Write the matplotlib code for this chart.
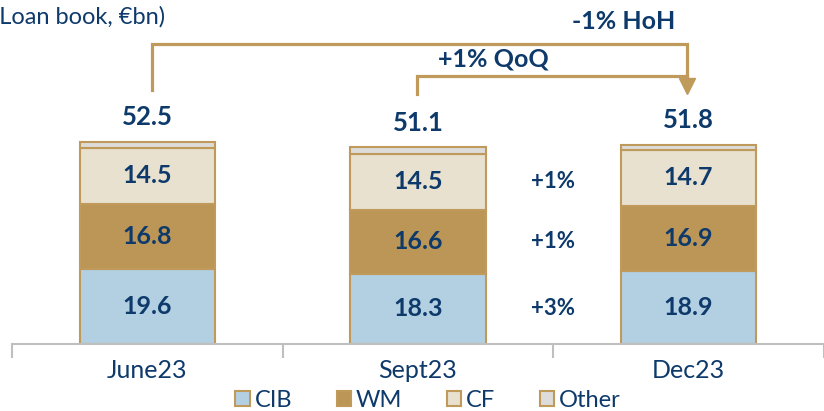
import numpy as np
import matplotlib
matplotlib.use("Agg")
import matplotlib.pyplot as plt
from matplotlib.patches import Patch

# data (loan book, EUR bn)
periods = ["June23", "Sept23", "Dec23"]
cib = [19.6, 18.3, 18.9]
wm = [16.8, 16.6, 16.9]
cf = [14.5, 14.5, 14.7]
totals = [52.5, 51.1, 51.8]
other = [round(t - a - b - c, 1) for t, a, b, c in zip(totals, cib, wm, cf)]
qoq_changes = ["+3%", "+1%", "+1%"]   # CIB, WM, CF
qoq_label = "+1% QoQ"
hoh_label = "-1% HoH"

navy = "#0E3A6B"
gold = "#BF9A5A"
colors = {"CIB": "#B3D0E2", "WM": "#BC9656", "CF": "#E8E1CF", "Other": "#DDDCDA"}

plt.rcParams['font.family'] = ['Lato', 'DejaVu Sans']

fig = plt.figure(figsize=(8.24, 4.11), dpi=100)
ax = fig.add_axes([0, 1 - 344 / 411, 1, 344 / 411])

x = np.arange(len(periods))
w = 0.5
bottom = np.zeros(len(periods))
segments = [("CIB", cib), ("WM", wm), ("CF", cf), ("Other", other)]
for name, vals in segments:
    vals = np.array(vals)
    ax.bar(x, vals, w, bottom=bottom, color=colors[name], edgecolor=gold, linewidth=1.5, zorder=2)
    if name != "Other":
        for xi, b, v in zip(x, bottom, vals):
            ax.text(xi, b + v / 2, f"{v:.1f}", ha="center", va="center",
                    fontsize=18, fontweight="bold", color=navy)
    bottom += vals

for xi, t in zip(x, totals):
    ax.text(xi, t + 6.4, f"{t:.1f}", ha="center", va="center",
            fontsize=18.5, fontweight="bold", color=navy)

# QoQ change per segment, next to Sept bar
mids = np.cumsum([0] + [cib[1], wm[1]]) + np.array([cib[1], wm[1], cf[1]]) / 2
for m, lab in zip(mids, qoq_changes):
    ax.text(1.5, m, lab, ha="center", va="center", fontsize=16, fontweight="bold", color=navy)

# brackets
lw = 2.3
ax.plot([0.017, 0.017, 1.995, 1.995], [66.0, 78.0, 78.0, 68.5], color=gold, lw=lw,
        solid_joinstyle="miter", zorder=3)
ax.plot([0.998, 0.998, 1.995], [65.0, 69.7, 69.7], color=gold, lw=lw,
        solid_joinstyle="miter", zorder=3)
ax.plot([1.995], [67.0], marker="v", ms=12, color=gold, mec=gold, zorder=4)
ax.text(1.277, 74.0, qoq_label, ha="center", va="center", fontsize=18, fontweight="bold", color=navy)
ax.text(1.76, 83.8, hoh_label, ha="center", va="center", fontsize=18, fontweight="bold", color=navy)

ax.set_xlim(-148.5 / 273, (824 - 148.5) / 273)
ax.set_ylim(0, 344 / 3.85)
for s in ["top", "right", "left"]:
    ax.spines[s].set_visible(False)
ax.spines["bottom"].set_color("#BFBFBF")
ax.spines["bottom"].set_linewidth(1.5)
ax.spines["bottom"].set_bounds(-0.5, 2.6)
ax.set_yticks([])
ax.set_xticks(x)
ax.set_xticklabels(periods, fontsize=18, color=navy)
ax.tick_params(axis="x", which="major", length=0, pad=11)
ax.set_xticks([-0.5, 0.5, 1.5, 2.5], minor=True)
ax.tick_params(axis="x", which="minor", length=10, width=1.5, color="#BFBFBF")

# title is cut at the left edge in the original slide
fig.text(-7 / 824, 1 - 17 / 411, "(Loan book, €bn)", ha="left", va="center", fontsize=17, color=navy)

handles = [Patch(facecolor=colors[n], edgecolor=gold, linewidth=1.5, label=n) for n, _ in segments]
fig.legend(handles=handles, loc="center", bbox_to_anchor=(428 / 824, 1 - 400 / 411), ncol=4,
           frameon=False, fontsize=17, handlelength=0.6, handleheight=0.6, handletextpad=0.2,
           columnspacing=1.9, labelcolor=navy, borderpad=0)

fig.savefig("out.png", dpi=100)
